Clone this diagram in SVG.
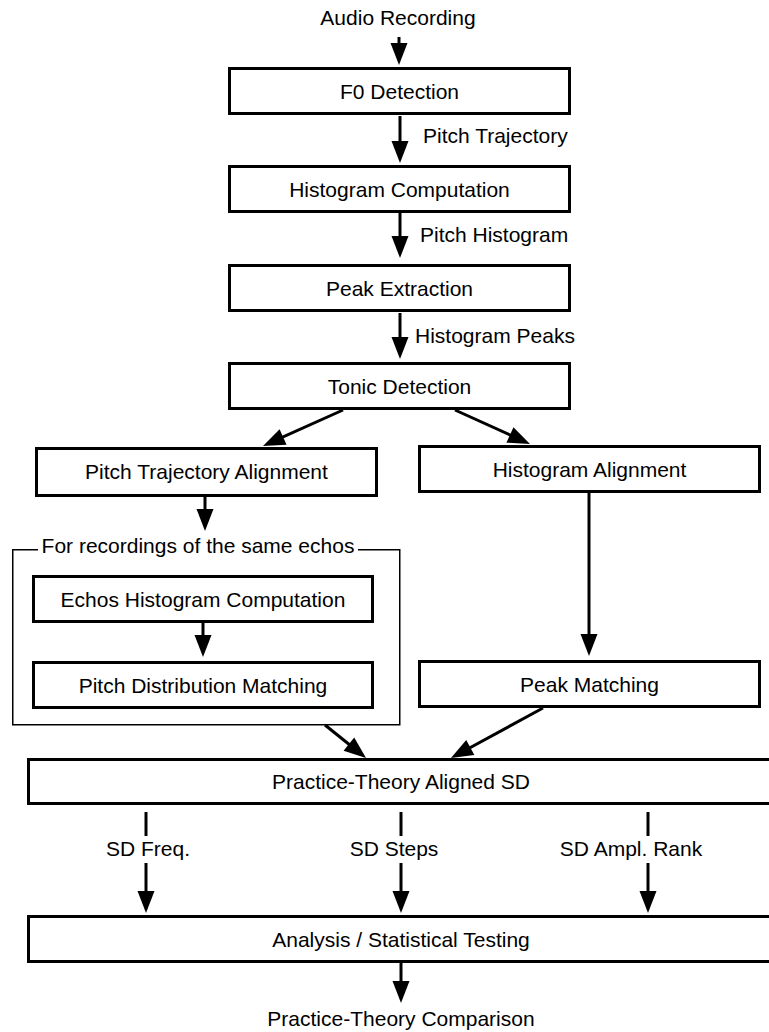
<svg xmlns="http://www.w3.org/2000/svg" width="769" height="1032" viewBox="0 0 769 1032">
<style>
.box{fill:#fff;stroke:#000;stroke-width:3}
.grp{fill:none;stroke:#000;stroke-width:1.5}
.t{font-family:"Liberation Sans",Arial,Helvetica,sans-serif;font-size:21px;fill:#000}
.c{text-anchor:middle}
.ln{stroke:#000;stroke-width:3;fill:none}
.ar{stroke:#000;stroke-width:3;fill:none;marker-end:url(#ah)}
</style>
<defs>
<marker id="ah" markerUnits="userSpaceOnUse" markerWidth="22" markerHeight="17" refX="14" refY="8.5" orient="auto" overflow="visible">
<path d="M0,0 L22,8.5 L0,17 Z" fill="#000"/>
</marker>
</defs>
<rect width="769" height="1032" fill="#fff"/>
<g id="container">
<path class="grp" d="M38,549.75 H12.75 V724.75 H399.75 V549.75 H358"/>
<text class="t c" x="198" y="553">For recordings of the same echos</text>
</g>
<g id="connectors">
<line class="ar" x1="399" y1="37" x2="399" y2="57"/>
<line class="ar" x1="400" y1="116" x2="400" y2="155"/>
<line class="ar" x1="400" y1="213" x2="400" y2="250"/>
<line class="ar" x1="400" y1="313" x2="400" y2="351"/>
<line class="ar" x1="343" y1="410" x2="270.3" y2="442.7"/>
<line class="ar" x1="455" y1="410" x2="522.7" y2="440.7"/>
<line class="ar" x1="205" y1="497" x2="205" y2="523"/>
<line class="ar" x1="203" y1="623" x2="203" y2="649"/>
<line class="ar" x1="589" y1="493" x2="589" y2="648"/>
<line class="ar" x1="325" y1="725" x2="359.8" y2="753"/>
<line class="ar" x1="543" y1="708" x2="458" y2="754.2"/>
<line class="ln" x1="146" y1="812" x2="146" y2="836"/>
<line class="ar" x1="146" y1="863" x2="146" y2="905"/>
<line class="ln" x1="401" y1="812" x2="401" y2="836"/>
<line class="ar" x1="401" y1="863" x2="401" y2="905"/>
<line class="ln" x1="648" y1="812" x2="648" y2="836"/>
<line class="ar" x1="648" y1="863" x2="648" y2="905"/>
<line class="ar" x1="401" y1="963" x2="401" y2="995"/>
<text class="t" x="423" y="143">Pitch Trajectory</text>
<text class="t" x="420" y="242">Pitch Histogram</text>
<text class="t" x="415" y="343">Histogram Peaks</text>
<text class="t c" x="148" y="856">SD Freq.</text>
<text class="t c" x="394" y="856">SD Steps</text>
<text class="t c" x="631" y="856">SD Ampl. Rank</text>
</g>
<g id="audio"><text class="t c" x="398" y="25">Audio Recording</text></g>
<g id="f0"><rect class="box" x="229.5" y="68.5" width="340" height="45"/><text class="t c" x="399.5" y="98.5">F0 Detection</text></g>
<g id="histcomp"><rect class="box" x="229.5" y="166.5" width="340" height="45"/><text class="t c" x="399.5" y="196.5">Histogram Computation</text></g>
<g id="peakext"><rect class="box" x="229.5" y="265.5" width="340" height="45"/><text class="t c" x="399.5" y="295.5">Peak Extraction</text></g>
<g id="tonic"><rect class="box" x="229.5" y="363.5" width="340" height="45"/><text class="t c" x="399.5" y="393.5">Tonic Detection</text></g>
<g id="pta"><rect class="box" x="36.5" y="448.5" width="340" height="47"/><text class="t c" x="206.5" y="479">Pitch Trajectory Alignment</text></g>
<g id="ha"><rect class="box" x="419.5" y="446.5" width="340" height="45"/><text class="t c" x="589.5" y="476.5">Histogram Alignment</text></g>
<g id="ehc"><rect class="box" x="33.5" y="576.5" width="339" height="45"/><text class="t c" x="203" y="606.5">Echos Histogram Computation</text></g>
<g id="pdm"><rect class="box" x="33.5" y="662.5" width="339" height="45"/><text class="t c" x="203" y="692.5">Pitch Distribution Matching</text></g>
<g id="pm"><rect class="box" x="419.5" y="661.5" width="340" height="45"/><text class="t c" x="589.5" y="691.5">Peak Matching</text></g>
<g id="ptas"><rect class="box" x="28.5" y="759.5" width="760" height="44"/><text class="t c" x="401" y="789">Practice-Theory Aligned SD</text></g>
<g id="ast"><rect class="box" x="28.5" y="916.5" width="760" height="45"/><text class="t c" x="401" y="946.5">Analysis / Statistical Testing</text></g>
<g id="ptc"><text class="t c" x="401" y="1026">Practice-Theory Comparison</text></g>
</svg>
